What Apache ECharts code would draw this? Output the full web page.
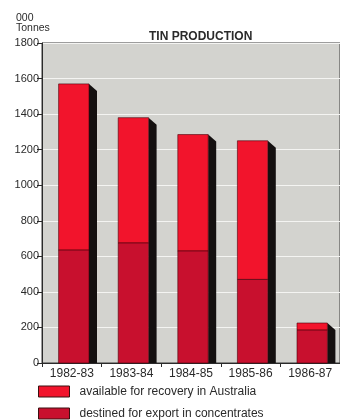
<!DOCTYPE html>
<html>
<head>
<meta charset="utf-8">
<script src="https://cdn.jsdelivr.net/npm/echarts@6/dist/echarts.min.js"></script>
<style>
  html, body { margin: 0; padding: 0; background: #fff; }
  #chart { width: 340px; height: 420px; }
</style>
</head>
<body>
<div id="chart"></div>
<script>
  const categories = ['1982-83', '1983-84', '1984-85', '1985-86', '1986-87'];
  // thousand tonnes
  const exportValues = [635, 675, 630, 470, 185];
  const recoveryValues = [935, 705, 655, 780, 40];
  const yTicks = [0, 200, 400, 600, 800, 1000, 1200, 1400, 1600, 1800];

  const RED = '#f2142c';
  const DARK_RED = '#c8102e';
  const SIDE = '#141010';

  const chart = echarts.init(document.getElementById('chart'));

  // front face of one stacked segment, plus the black side for the top one
  function drawSegment(params, api, color, withSide) {
    const idx = api.value(0);
    const base = api.value(1);
    const top = api.value(2);
    const p0 = api.coord([idx, base]);
    const p1 = api.coord([idx, top]);
    const w = api.size([1, 0])[0] * 0.51;
    const x = p0[0] - w / 2 + 2;
    const children = [];
    if (withSide) {
      const floor = api.coord([idx, 0]);
      children.push({
        type: 'polygon',
        shape: {
          points: [
            [x + w, p1[1]],
            [x + w + 8, p1[1] + 7],
            [x + w + 8, floor[1]],
            [x + w, floor[1]]
          ]
        },
        style: { fill: SIDE }
      });
    }
    children.push({
      type: 'rect',
      shape: { x: x, y: p1[1], width: w, height: p0[1] - p1[1] },
      style: { fill: color, stroke: 'rgba(70,0,10,0.75)', lineWidth: 0.8 }
    });
    return { type: 'group', children: children };
  }

  const exportData = categories.map((c, i) => [i, 0, exportValues[i]]);
  const recoveryData = categories.map((c, i) => [i, exportValues[i], exportValues[i] + recoveryValues[i]]);

  const option = {
    animation: false,
    textStyle: { fontFamily: 'Liberation Sans, Arial, sans-serif' },
    title: {
      text: 'TIN PRODUCTION',
      left: 149,
      top: 31,
      padding: 0,
      textStyle: { fontSize: 12, fontWeight: 'bold', color: '#2a2a2a' }
    },
    graphic: [{
      type: 'text',
      left: 16,
      top: 13,
      style: {
        text: '000\nTonnes',
        fontSize: 10.5,
        lineHeight: 10,
        fill: '#2a2a2a',
        fontFamily: 'Liberation Sans, Arial, sans-serif'
      }
    }],
    legend: {
      orient: 'vertical',
      left: 38,
      top: 383,
      padding: 0,
      height: 40,
      itemWidth: 31,
      itemHeight: 11,
      itemGap: 5,
      icon: 'rect',
      data: ['available for recovery in Australia', 'destined for export in concentrates'],
      itemStyle: { borderColor: '#3a1010', borderWidth: 1 },
      textStyle: { fontSize: 12, lineHeight: 15, color: '#2a2a2a', padding: [2, 0, 0, 5] }
    },
    grid: {
      left: 42,
      top: 43,
      width: 305,
      height: 320,
      show: true,
      backgroundColor: '#d3d3cf',
      borderColor: '#3a3a3a',
      borderWidth: 1
    },
    xAxis: {
      type: 'category',
      data: categories,
      axisLine: { lineStyle: { color: '#2a2a2a', width: 1 } },
      axisTick: { show: true, length: 4, alignWithLabel: false, lineStyle: { color: '#2a2a2a' } },
      axisLabel: { fontSize: 12, color: '#2a2a2a', margin: 5 },
      splitLine: { show: false }
    },
    yAxis: {
      type: 'value',
      min: yTicks[0],
      max: yTicks[yTicks.length - 1],
      interval: 200,
      axisLine: { show: true, lineStyle: { color: '#2a2a2a', width: 1 } },
      axisTick: { show: true, length: 5, lineStyle: { color: '#2a2a2a' } },
      axisLabel: { fontSize: 11, color: '#2a2a2a', margin: 3, formatter: (v) => String(v) },
      splitLine: { show: true, lineStyle: { color: '#f4f4f2', width: 1.2 } }
    },
    series: [
      {
        name: 'destined for export in concentrates',
        type: 'custom',
        itemStyle: { color: DARK_RED },
        encode: { x: 0, y: [1, 2] },
        renderItem: (params, api) => drawSegment(params, api, DARK_RED, false),
        data: exportData,
        z: 3
      },
      {
        name: 'available for recovery in Australia',
        type: 'custom',
        itemStyle: { color: RED },
        encode: { x: 0, y: [1, 2] },
        renderItem: (params, api) => drawSegment(params, api, RED, true),
        data: recoveryData,
        z: 2
      }
    ]
  };

  chart.setOption(option);
  window.addEventListener('resize', () => {
    chart && chart.resize();
  });
</script>
</body>
</html>
